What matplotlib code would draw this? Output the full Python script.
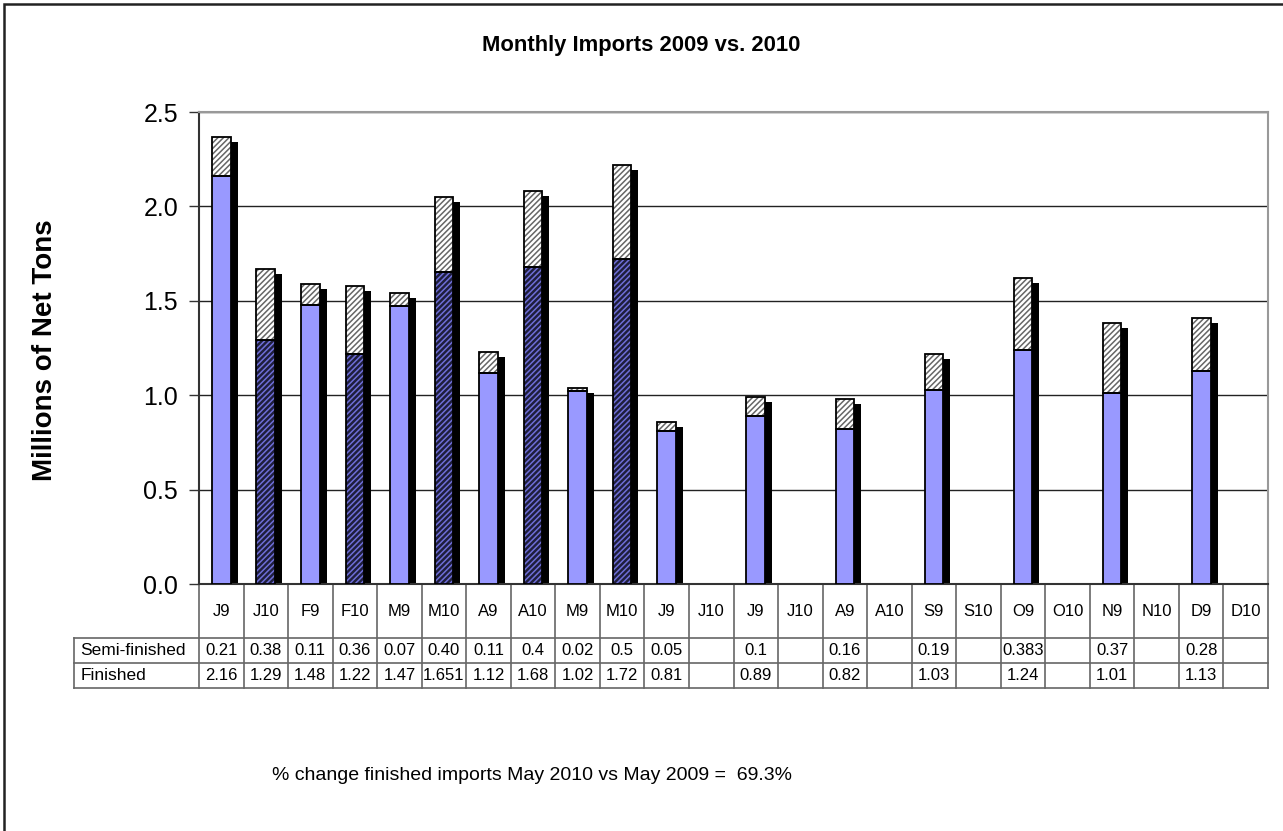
import matplotlib
matplotlib.use("Agg")
import matplotlib.pyplot as plt
from matplotlib import transforms
from matplotlib.patches import Rectangle

plt.rcParams['font.family'] = ['Liberation Sans', 'DejaVu Sans']
plt.rcParams['hatch.linewidth'] = 1.1

categories = ['J9', 'J10', 'F9', 'F10', 'M9', 'M10', 'A9', 'A10', 'M9', 'M10',
              'J9', 'J10', 'J9', 'J10', 'A9', 'A10', 'S9', 'S10', 'O9', 'O10',
              'N9', 'N10', 'D9', 'D10']
semi_txt = ['0.21', '0.38', '0.11', '0.36', '0.07', '0.40', '0.11', '0.4', '0.02', '0.5',
            '0.05', '', '0.1', '', '0.16', '', '0.19', '', '0.383', '',
            '0.37', '', '0.28', '']
fin_txt = ['2.16', '1.29', '1.48', '1.22', '1.47', '1.651', '1.12', '1.68', '1.02', '1.72',
           '0.81', '', '0.89', '', '0.82', '', '1.03', '', '1.24', '',
           '1.01', '', '1.13', '']
yticks = [0.0, 0.5, 1.0, 1.5, 2.0, 2.5]

semi = [float(s) if s else 0.0 for s in semi_txt]
fin = [float(s) if s else 0.0 for s in fin_txt]
is2010 = [c.endswith('10') for c in categories]

fig = plt.figure(figsize=(12.83, 8.31), dpi=100)
ax = fig.add_axes([199 / 1283, 1 - 584 / 831, 1069 / 1283, 472 / 831])

x = list(range(len(categories)))
w = 0.42
shadow = transforms.offset_copy(ax.transData, fig=fig, x=7, y=-5, units='dots')

for i in x:
    if not fin_txt[i]:
        continue
    tot = fin[i] + semi[i]
    ax.bar(i, tot, w, color='black', transform=shadow, zorder=2)
    if is2010[i]:
        ax.bar(i, fin[i], w, color='#1e1e3c', edgecolor='#6e6ed8', hatch='//////', linewidth=0, zorder=3)
    else:
        ax.bar(i, fin[i], w, color='#9999ff', linewidth=0, zorder=3)
    ax.bar(i, fin[i], w, fill=False, edgecolor='black', linewidth=1.3, zorder=4)
    ax.bar(i, semi[i], w, bottom=fin[i], color='white', edgecolor='#666666', hatch='//////', linewidth=0, zorder=3)
    ax.bar(i, semi[i], w, bottom=fin[i], fill=False, edgecolor='black', linewidth=1.3, zorder=4)

ax.set_xlim(-0.5, len(categories) - 0.5)
ax.set_ylim(0, 2.5)
ax.set_yticks(yticks)
ax.set_yticklabels(['%.1f' % v for v in yticks], fontsize=18)
ax.tick_params(axis='y', direction='out', length=7, width=1, color='#333333', pad=8)
ax.tick_params(axis='x', bottom=False, labelbottom=False)
ax.yaxis.grid(True, color='#222222', linewidth=1)
ax.set_axisbelow(True)
for s in ['left', 'bottom']:
    ax.spines[s].set_color('#333333')
    ax.spines[s].set_linewidth(1.5)
for s in ['top', 'right']:
    ax.spines[s].set_color('#999999')
    ax.spines[s].set_linewidth(1.5)

# data table under the axis
tr = transforms.blended_transform_factory(ax.transData, ax.transAxes)
hdr = -54 / 472
r1 = -79 / 472
r2 = -104 / 472
lab_x = -0.5 - 125 / 44.54
lc = '#666666'
kw = dict(transform=tr, clip_on=False, color=lc, linewidth=1.2)
for i in range(len(categories) + 1):
    ax.plot([i - 0.5, i - 0.5], [0, r2], **kw)
ax.plot([lab_x, lab_x], [hdr, r2], **kw)
for yy in [hdr, r1, r2]:
    ax.plot([lab_x, len(categories) - 0.5], [yy, yy], **kw)

for i, c in enumerate(categories):
    ax.text(i, hdr / 2, c, transform=tr, ha='center', va='center', fontsize=12)
    ax.text(i, (hdr + r1) / 2, semi_txt[i], transform=tr, ha='center', va='center', fontsize=12)
    ax.text(i, (r1 + r2) / 2, fin_txt[i], transform=tr, ha='center', va='center', fontsize=12)
ax.text(lab_x + 0.15, (hdr + r1) / 2, 'Semi-finished', transform=tr, ha='left', va='center', fontsize=12.5)
ax.text(lab_x + 0.15, (r1 + r2) / 2, 'Finished', transform=tr, ha='left', va='center', fontsize=12.5)

fig.text(0.5, 1 - 46 / 831, 'Monthly Imports 2009 vs. 2010', ha='center', va='center',
         fontsize=15.8, fontweight='bold')
fig.text(45 / 1283, 1 - 350 / 831, 'Millions of Net Tons', ha='center', va='center',
         rotation=90, fontsize=20, fontweight='bold')
fig.text(272 / 1283, 1 - 775 / 831, '% change finished imports May 2010 vs May 2009 =  69.3%',
         ha='left', va='center', fontsize=14)

fig.patches.append(Rectangle((4 / 1283, -0.1), 1.2, 1 - 4 / 831 + 0.1, transform=fig.transFigure,
                             fill=False, edgecolor='#222222', linewidth=1.8))

fig.savefig('out.png', dpi=100)
